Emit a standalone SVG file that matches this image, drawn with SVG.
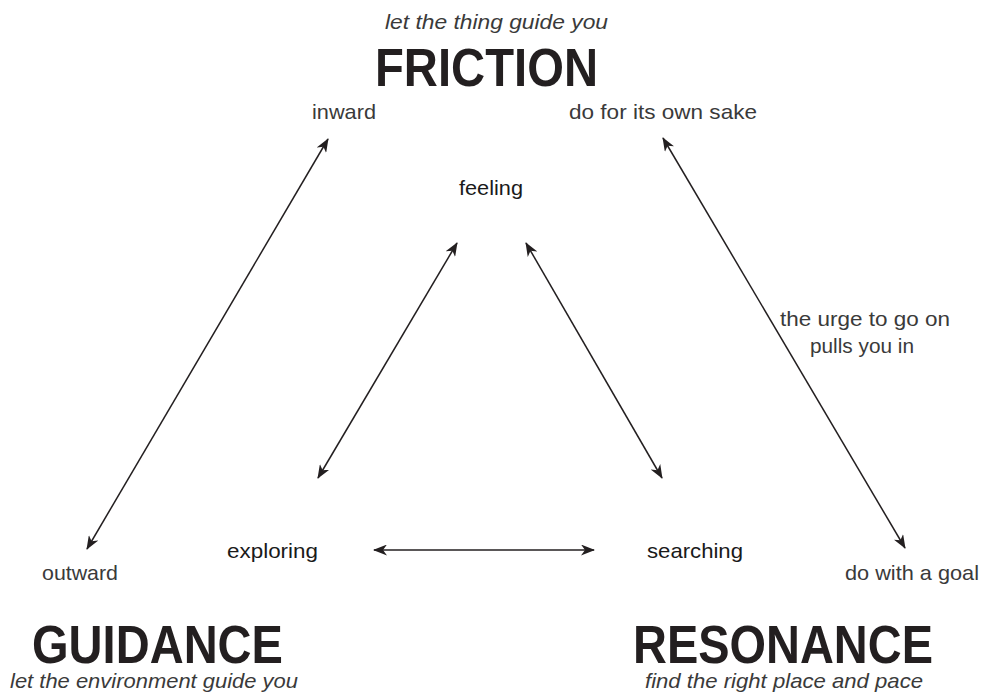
<svg xmlns="http://www.w3.org/2000/svg" width="985" height="693" viewBox="0 0 985 693">
  <defs>
    <marker id="ah" viewBox="0 0 14 11" markerUnits="userSpaceOnUse" markerWidth="14" markerHeight="11" refX="13" refY="5.5" orient="auto-start-reverse">
      <path d="M0,0 L14,5.5 L0,11 L4,5.5 Z" fill="#231f20"/>
    </marker>
  </defs>
  <style>
    text { font-family: "Liberation Sans", Arial, Helvetica, sans-serif; }
    .title { font-size: 53px; font-weight: bold; fill: #231f20; }
    .sub { font-size: 21px; font-style: italic; fill: #3a3a3a; }
    .lbl { font-size: 21px; fill: #3a3a3a; }
    .node { font-size: 21px; fill: #1a1a1a; }
    .conn line { stroke: #231f20; stroke-width: 1.5; marker-start: url(#ah); marker-end: url(#ah); }
  </style>
  <rect width="985" height="693" fill="#ffffff"/>

  <g id="friction">
    <text class="sub" x="385" y="29" textLength="223" lengthAdjust="spacingAndGlyphs">let the thing guide you</text>
    <text class="title" x="375" y="86" textLength="223" lengthAdjust="spacingAndGlyphs">FRICTION</text>
  </g>
  <g id="guidance">
    <text class="title" x="32" y="663" textLength="251" lengthAdjust="spacingAndGlyphs">GUIDANCE</text>
    <text class="sub" x="10" y="688" textLength="288" lengthAdjust="spacingAndGlyphs">let the environment guide you</text>
  </g>
  <g id="resonance">
    <text class="title" x="633" y="663" textLength="300" lengthAdjust="spacingAndGlyphs">RESONANCE</text>
    <text class="sub" x="645" y="688" textLength="278" lengthAdjust="spacingAndGlyphs">find the right place and pace</text>
  </g>

  <g id="inward"><text class="lbl" x="312" y="119" textLength="64" lengthAdjust="spacingAndGlyphs">inward</text></g>
  <g id="own-sake"><text class="lbl" x="569" y="119" textLength="188" lengthAdjust="spacingAndGlyphs">do for its own sake</text></g>
  <g id="outward"><text class="lbl" x="42" y="580" textLength="76" lengthAdjust="spacingAndGlyphs">outward</text></g>
  <g id="goal"><text class="lbl" x="845" y="580" textLength="134" lengthAdjust="spacingAndGlyphs">do with a goal</text></g>

  <g id="feeling"><text class="node" x="459" y="195" textLength="64" lengthAdjust="spacingAndGlyphs">feeling</text></g>
  <g id="exploring"><text class="node" x="227" y="558" textLength="91" lengthAdjust="spacingAndGlyphs">exploring</text></g>
  <g id="searching"><text class="node" x="647" y="558" textLength="96" lengthAdjust="spacingAndGlyphs">searching</text></g>

  <g id="urge-label">
    <text class="lbl" x="780" y="326" textLength="170" lengthAdjust="spacingAndGlyphs">the urge to go on</text>
    <text class="lbl" x="810" y="353" textLength="104" lengthAdjust="spacingAndGlyphs">pulls you in</text>
  </g>

  <g id="connectors" class="conn">
    <line x1="328" y1="139" x2="87" y2="549"/>
    <line x1="663" y1="138" x2="905" y2="548"/>
    <line x1="457" y1="243" x2="318" y2="478"/>
    <line x1="526" y1="243" x2="662" y2="478"/>
    <line x1="374" y1="550" x2="594" y2="550"/>
  </g>
</svg>
